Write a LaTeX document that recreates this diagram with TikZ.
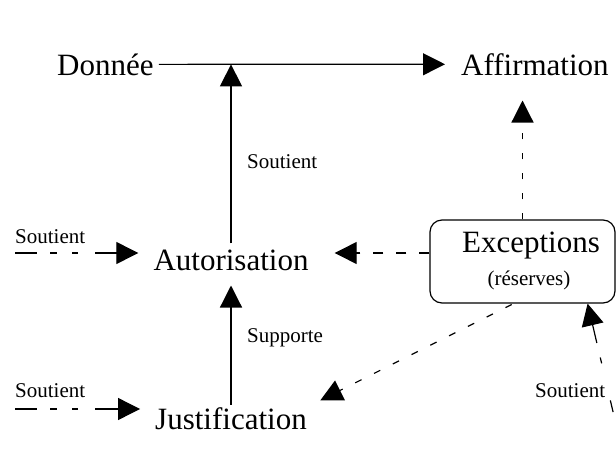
\documentclass[tikz,border=0pt]{standalone}
\usepackage{fontspec}
\setmainfont{Liberation Serif}
\usetikzlibrary{arrows.meta}

\begin{document}
\begin{tikzpicture}[x=1pt,y=-1pt,
  grand/.style={font=\fontsize{31}{36}\selectfont,inner sep=0pt},
  petit/.style={font=\fontsize{21}{25}\selectfont,inner sep=0pt},
  fleche/.style={line width=1.2pt,-{Triangle[length=22pt,width=22pt]}},
  tirets/.style={fleche,dash pattern=on 7pt off 14pt}]
\useasboundingbox (0,0) rectangle (616,450);

% les elements
\node[grand,anchor=base west] (donnee) at (57,75) {Donnée};
\node[grand,anchor=base west] (affirmation) at (461,75) {Affirmation};
\node[grand,anchor=base] (autorisation) at (231,270) {Autorisation};
\node[grand,anchor=base] (justification) at (231,429) {Justification};

\node[draw,line width=1.2pt,rounded corners=12pt,minimum width=185pt,minimum height=83pt] (exceptions) at (522.5,261.5) {};
\node[grand,anchor=base] (exc) at (531,252) {Exceptions};
\node[petit,anchor=base] (reserves) at (529,285) {(réserves)};

% les etiquettes
\node[petit,anchor=base west] (soutienH) at (247,168) {Soutient};
\node[petit,anchor=base west] (supporte) at (247,342) {Supporte};
\node[petit,anchor=base west] (soutienA) at (15,243) {Soutient};
\node[petit,anchor=base west] (soutienJ) at (15,397) {Soutient};
\node[petit,anchor=base west] (soutienE) at (535,397) {Soutient};

\coordinate (croise) at (autorisation |- donnee);
\coordinate (gaucheA) at (15,253);
\coordinate (gaucheJ) at (15,409);
\coordinate (basdroite) at (622,450);

% traits pleins
\draw[fleche,shorten <=5pt,shorten >=16pt] (donnee) -- (affirmation);
\draw[fleche,shorten <=6pt] (autorisation.north) -- (croise);
\draw[fleche,shorten <=2pt,shorten >=15pt] (justification.north) -- (autorisation.south);

% traits en tirets
\draw[fleche,dash pattern=on 22pt off 13pt on 7pt off 15pt on 6pt off 17pt on 40pt,shorten >=15pt] (gaucheA) -- (gaucheA -| autorisation.west);
\draw[fleche,dash pattern=on 22pt off 13pt on 7pt off 15pt on 6pt off 17pt on 40pt,shorten >=15pt] (gaucheJ) -- (gaucheJ -| justification.west);
\draw[tirets,dash pattern=on 10pt off 13pt,shorten >=26pt] (exceptions.west |- gaucheA) -- (autorisation.east |- gaucheA);
\draw[tirets,dash pattern=on 6pt off 14pt,shorten >=25pt] (exceptions.north) -- (exceptions.north |- affirmation.south);
\draw[tirets,shorten <=2pt,shorten >=15pt] ([xshift=-9pt]exceptions.south) -- (justification.north east);
\draw[fleche,dash pattern=on 0pt off 39pt on 12pt off 38pt on 6pt off 15pt on 40pt] (basdroite) -- ([xshift=-28pt]exceptions.south east);
\end{tikzpicture}
\end{document}
